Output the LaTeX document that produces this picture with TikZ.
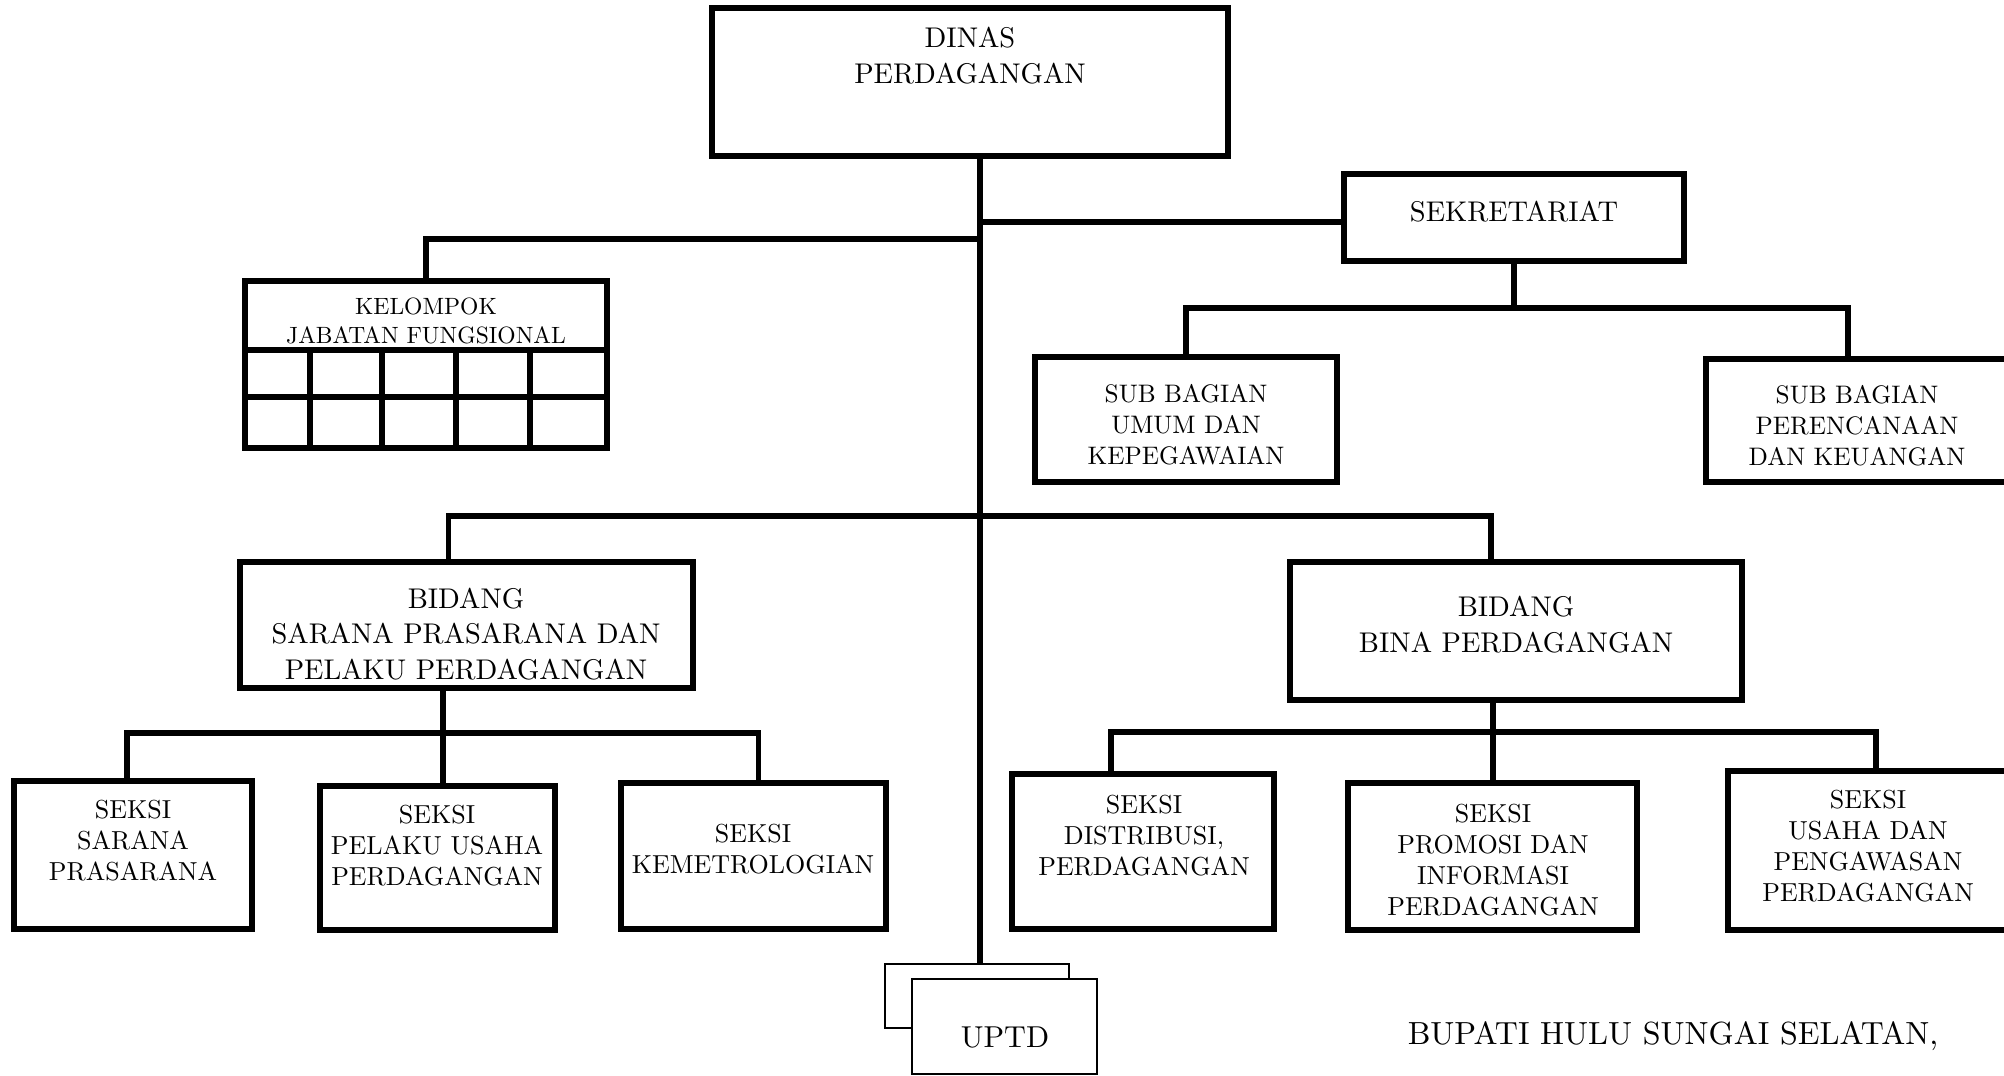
\documentclass[tikz,border=0pt]{standalone}
\usepackage{fontspec}
\setmainfont{lmroman10-regular.otf}
\usetikzlibrary{fit}
\tikzset{
  unit/.style={draw, line width=1.6pt, inner sep=0pt},
  thinunit/.style={draw, line width=0.7pt, inner sep=0pt, fill=white},
  link/.style={line width=1.6pt},
  headtext/.style={align=center, inner sep=0pt, font=\fontsize{8.1}{10.2}\selectfont},
  subtext/.style={align=center, inner sep=0pt, font=\fontsize{7.2}{8.8}\selectfont},
  seksitext/.style={align=center, inner sep=0pt, font=\fontsize{7.4}{8.8}\selectfont},
  jfgtext/.style={align=center, inner sep=0pt, font=\fontsize{6.7}{8}\selectfont}
}

\begin{document}
\begin{tikzpicture}[x=0.01cm, y=-0.01cm]
		\useasboundingbox (0,0) rectangle (2004,1075);
		
		%%%%% KEPALA DINAS %%%%%
		\node[unit, fit={(712,8) (1228,156)}] (dinas) {};
		\node[headtext] (dinas-t) at (970,56) {DINAS\\PERDAGANGAN};
		
		\coordinate (j-sek) at (980,222);
		\coordinate (j-kfj) at (980,239);
		\coordinate (j-bid) at (980,516);
		
		%%%%% SEKRETARIAT %%%%%
		\node[unit, fit={(1344,174) (1684,261)}] (sekretariat) {};
		\node[headtext] (sekretariat-t) at (1514,212) {SEKRETARIAT};
		
		\node[unit, fit={(1035,357) (1337,482)}] (subumum) {};
		\node[subtext] (subumum-t) at (1186,425) {SUB BAGIAN\\UMUM DAN\\KEPEGAWAIAN};
		\node[unit, fit={(1706,359) (2010,482)}] (subkeu) {};
		\node[subtext] (subkeu-t) at (1857,426) {SUB BAGIAN\\PERENCANAAN\\DAN KEUANGAN};
		
		\coordinate (j-sub) at (1514,308);
		
		%%%%% KELOMPOK JABATAN FUNGSIONAL %%%%%
		\node[unit, fit={(245,281) (607,448)}] (kfj) {};
		\node[jfgtext] (kfj-t) at (426,321) {KELOMPOK\\JABATAN FUNGSIONAL};
		\draw[unit] (245,350) -- (607,350);
		\draw[unit] (245,397) -- (607,397);
		\foreach \x in {310,382,456,530}
			\draw[unit] (\x,350) -- (\x,448);
		
		%%%%% BIDANG %%%%%
		\node[unit, fit={(240,562) (693,688)}] (bsarana) {};
		\node[headtext] (bsarana-t) at (466,634) {BIDANG\\SARANA PRASARANA DAN\\PELAKU PERDAGANGAN};
		\node[unit, fit={(1290,562) (1742,700)}] (bbina) {};
		\node[headtext] (bbina-t) at (1516,625) {BIDANG\\BINA PERDAGANGAN};
		
		\coordinate (j-s1) at (443,733);
		\coordinate (j-s2) at (1493,732);
		
		%%%%% SEKSI %%%%%
		\node[unit, fit={(14,781) (252,929)}] (s-sarana) {};
		\node[seksitext] (s-sarana-t) at (133,841) {SEKSI\\SARANA\\PRASARANA};
		\node[unit, fit={(320,786) (555,930)}] (s-pelaku) {};
		\node[seksitext] (s-pelaku-t) at (437,846) {SEKSI\\PELAKU USAHA\\PERDAGANGAN};
		\node[unit, fit={(621,783) (886,929)}] (s-metro) {};
		\node[seksitext] (s-metro-t) at (753,849) {SEKSI\\KEMETROLOGIAN};
		
		\node[unit, fit={(1012,774) (1274,929)}] (s-distri) {};
		\node[seksitext] (s-distri-t) at (1144,836) {SEKSI\\DISTRIBUSI,\\PERDAGANGAN};
		\node[unit, fit={(1348,783) (1637,930)}] (s-promosi) {};
		\node[seksitext] (s-promosi-t) at (1493,860) {SEKSI\\PROMOSI DAN\\INFORMASI\\PERDAGANGAN};
		\node[unit, fit={(1728,771) (2010,930)}] (s-usaha) {};
		\node[seksitext] (s-usaha-t) at (1868,846) {SEKSI\\USAHA DAN\\PENGAWASAN\\PERDAGANGAN};
		
		%%%%% UPTD %%%%%
		\node[thinunit, fit={(885,964) (1069,1028)}] (uptd-b) {};
		\node[thinunit, fit={(912,979) (1097,1074)}] (uptd) {};
		\node[headtext, font=\fontsize{8.6}{10}\selectfont] (uptd-t) at (1005,1037) {UPTD};
		
		%%%%% GARIS %%%%%
		\draw[link] (dinas.south -| j-bid) -- (uptd-b.north -| j-bid);
		\draw[link] (j-sek) -- (j-sek -| sekretariat.west);
		\draw[link] (j-kfj) -| (kfj.north);
		\draw[link] (sekretariat.south) -- (j-sub);
		\draw[link] (subumum.north) |- (j-sub) -| ([xshift=-0.1cm]subkeu.north);
		\draw[link] ([xshift=-0.18cm]bsarana.north) |- (j-bid) -| ([xshift=-0.25cm]bbina.north);
		\draw[link] (bsarana.south -| j-s1) -- (s-pelaku.north -| j-s1);
		\draw[link] ([xshift=-0.06cm]s-sarana.north) |- (j-s1) -| ([xshift=0.05cm]s-metro.north);
		\draw[link] (bbina.south -| j-s2) -- (s-promosi.north -| j-s2);
		\draw[link] ([xshift=-0.32cm]s-distri.north) |- (j-s2) -| ([xshift=0.07cm]s-usaha.north);
		
		\node[headtext, font=\fontsize{9.1}{10}\selectfont] (bupati) at (1673,1036) {BUPATI HULU SUNGAI SELATAN,};
		
	\end{tikzpicture}
\end{document}
